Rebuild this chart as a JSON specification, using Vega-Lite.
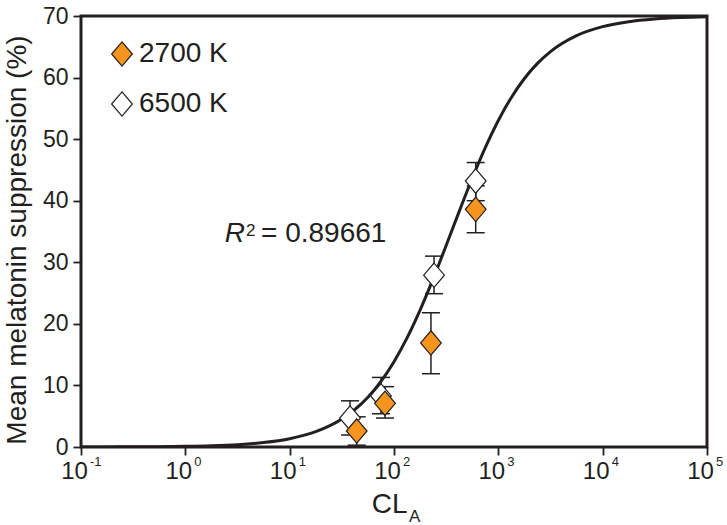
{
  "$schema": "https://vega.github.io/schema/vega-lite/v6.json",
  "width": 626,
  "height": 431,
  "autosize": {"type": "none"},
  "padding": {"left": 81, "top": 16, "right": 20, "bottom": 78},
  "background": "white",
  "config": {
    "font": "Liberation Sans",
    "view": {"stroke": "#231f20", "strokeWidth": 3},
    "axis": {
      "grid": false, "domain": false, "tickColor": "#231f20", "tickWidth": 1.8, "tickSize": 8,
      "labelColor": "#231f20", "labelFontSize": 23, "labelFont": "Liberation Sans",
      "titleColor": "#231f20", "titleFont": "Liberation Sans", "titleFontWeight": "normal"
    }
  },
  "datasets": {
    "curve": [
      {"x": 0.1, "y": 0.0085}, {"x": 0.17783, "y": 0.016}, {"x": 0.31623, "y": 0.030}, {"x": 0.56234, "y": 0.057},
      {"x": 1, "y": 0.1076}, {"x": 1.7783, "y": 0.2026}, {"x": 3.1623, "y": 0.3813}, {"x": 5.6234, "y": 0.7157},
      {"x": 10, "y": 1.338}, {"x": 17.783, "y": 2.482}, {"x": 31.623, "y": 4.540}, {"x": 42.17, "y": 6.088},
      {"x": 56.234, "y": 8.097}, {"x": 74.989, "y": 10.661}, {"x": 100, "y": 13.859}, {"x": 133.35, "y": 17.719},
      {"x": 177.83, "y": 22.238}, {"x": 237.14, "y": 27.299}, {"x": 316.23, "y": 32.734}, {"x": 421.7, "y": 38.272},
      {"x": 562.34, "y": 43.655}, {"x": 749.89, "y": 48.63}, {"x": 1000, "y": 53.034}, {"x": 1333.5, "y": 56.776},
      {"x": 1778.3, "y": 59.85}, {"x": 2371.4, "y": 62.307}, {"x": 3162.3, "y": 64.226}, {"x": 5623.4, "y": 66.816},
      {"x": 10000, "y": 68.275}, {"x": 17783, "y": 69.075}, {"x": 31623, "y": 69.507}, {"x": 56234, "y": 69.737},
      {"x": 100000, "y": 69.861}
    ],
    "points": [
      {"series": "6500 K", "x": 37.9, "y": 4.7, "lo": 1.95, "hi": 7.5},
      {"series": "6500 K", "x": 75, "y": 8.3, "lo": 5.4, "hi": 11.3},
      {"series": "6500 K", "x": 242, "y": 27.9, "lo": 24.9, "hi": 31.0},
      {"series": "6500 K", "x": 607, "y": 43.2, "lo": 40.0, "hi": 46.2},
      {"series": "2700 K", "x": 43.9, "y": 2.6, "lo": 0.3, "hi": 4.9},
      {"series": "2700 K", "x": 82, "y": 7.1, "lo": 4.7, "hi": 9.8},
      {"series": "2700 K", "x": 226, "y": 16.9, "lo": 11.9, "hi": 21.8},
      {"series": "2700 K", "x": 607, "y": 38.6, "lo": 34.8, "hi": 42.4}
    ],
    "exponents": [
      {"x": 0.1, "y": -3.1, "t": "-1"}, {"x": 1, "y": -3.1, "t": "0"}, {"x": 10, "y": -3.1, "t": "1"},
      {"x": 100, "y": -3.1, "t": "2"}, {"x": 1000, "y": -3.1, "t": "3"}, {"x": 10000, "y": -3.1, "t": "4"},
      {"x": 100000, "y": -3.1, "t": "5"}
    ]
  },
  "encoding": {
    "x": {
      "field": "x", "type": "quantitative",
      "scale": {"type": "log", "domain": [0.1, 100000], "nice": false},
      "axis": {
        "title": null, "values": [0.1, 1, 10, 100, 1000, 10000, 100000], "labelPadding": 4,
        "labelFontSize": 24, "labelFlush": false, "labelOverlap": false, "labelOffset": -7,
        "labelExpr": "'10'"
      }
    },
    "y": {
      "field": "y", "type": "quantitative",
      "scale": {"domain": [0, 70], "nice": false},
      "axis": {
        "title": "Mean melatonin suppression (%)", "values": [0, 10, 20, 30, 40, 50, 60, 70],
        "labelPadding": 5, "titleFontSize": 28, "titleAngle": -90, "titleX": -56, "titleY": 223.5,
        "titleAlign": "center", "titleBaseline": "alphabetic"
      }
    }
  },
  "layer": [
    {
      "data": {"name": "curve"},
      "mark": {"type": "line", "color": "#231f20", "strokeWidth": 3, "interpolate": "monotone", "clip": true}
    },
    {
      "data": {"name": "points"},
      "mark": {"type": "rule", "color": "#231f20", "strokeWidth": 1.5},
      "encoding": {"y": {"field": "lo", "type": "quantitative"}, "y2": {"field": "hi"}}
    },
    {
      "data": {"name": "points"},
      "mark": {"type": "tick", "orient": "horizontal", "color": "#231f20", "thickness": 1.5, "size": 18, "opacity": 1},
      "encoding": {"y": {"field": "lo", "type": "quantitative"}}
    },
    {
      "data": {"name": "points"},
      "mark": {"type": "tick", "orient": "horizontal", "color": "#231f20", "thickness": 1.5, "size": 18, "opacity": 1},
      "encoding": {"y": {"field": "hi", "type": "quantitative"}}
    },
    {
      "data": {"name": "points"},
      "mark": {"type": "point", "filled": true, "shape": "M0,-1L0.85,0L0,1L-0.85,0Z", "size": 595, "stroke": "#231f20", "strokeWidth": 1.2, "opacity": 1},
      "encoding": {
        "fill": {
          "field": "series", "type": "nominal",
          "scale": {"domain": ["2700 K", "6500 K"], "range": ["#F7941D", "#ffffff"]},
          "legend": {
            "orient": "none", "legendX": 27, "legendY": 24, "title": null, "padding": 0,
            "labelFontSize": 28, "labelColor": "#231f20", "labelFont": "Liberation Sans",
            "symbolType": "M0,-1L0.85,0L0,1L-0.85,0Z", "symbolSize": 595,
            "symbolStrokeColor": "#231f20", "symbolStrokeWidth": 1.2, "symbolOpacity": 1,
            "labelOffset": 3, "rowPadding": 20
          }
        }
      }
    },
    {
      "data": {"name": "exponents"},
      "mark": {"type": "text", "align": "left", "baseline": "alphabetic", "fontSize": 13, "dx": 9, "color": "#231f20"},
      "encoding": {"text": {"field": "t"}}
    },
    {
      "data": {"values": [{"x": 3.73, "y": 33.3, "t": "R"}]},
      "mark": {"type": "text", "align": "right", "baseline": "alphabetic", "fontSize": 28, "fontStyle": "italic", "color": "#231f20"},
      "encoding": {"text": {"field": "t"}}
    },
    {
      "data": {"values": [{"x": 3.815, "y": 34.27, "t": "2"}]},
      "mark": {"type": "text", "align": "left", "baseline": "alphabetic", "fontSize": 17, "color": "#231f20"},
      "encoding": {"text": {"field": "t"}}
    },
    {
      "data": {"values": [{"x": 5.313, "y": 33.3, "t": "= 0.89661"}]},
      "mark": {"type": "text", "align": "left", "baseline": "alphabetic", "fontSize": 28, "color": "#231f20"},
      "encoding": {"text": {"field": "t"}}
    },
    {
      "data": {"values": [{"x": 61.1, "y": -10.77, "t": "CL"}]},
      "mark": {"type": "text", "align": "left", "baseline": "alphabetic", "fontSize": 28, "color": "#231f20"},
      "encoding": {"text": {"field": "t"}}
    },
    {
      "data": {"values": [{"x": 139.3, "y": -12.13, "t": "A"}]},
      "mark": {"type": "text", "align": "left", "baseline": "alphabetic", "fontSize": 17, "color": "#231f20"},
      "encoding": {"text": {"field": "t"}}
    }
  ]
}
